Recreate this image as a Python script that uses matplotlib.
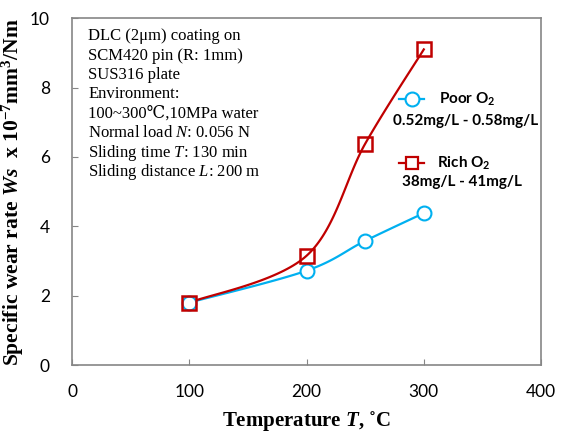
import numpy as np
import matplotlib
matplotlib.use('Agg')
import matplotlib.pyplot as plt
from matplotlib.lines import Line2D

plt.rcParams['mathtext.fontset'] = 'custom'
plt.rcParams['mathtext.rm'] = 'Liberation Serif'
plt.rcParams['mathtext.it'] = 'Liberation Serif:italic'
plt.rcParams['mathtext.bf'] = 'Liberation Serif:bold'
plt.rcParams['mathtext.bfit'] = 'Liberation Serif:bold:italic'
plt.rcParams['mathtext.sf'] = 'Lato:bold'

# Datos
temp_poor = [100, 200, 250, 300]
ws_poor = [1.8, 2.72, 3.58, 4.38]
temp_rich = [100, 200, 250, 300]
ws_rich = [1.8, 3.15, 6.38, 9.1]

x_ticks = [0, 100, 200, 300, 400]
y_ticks = [0, 2, 4, 6, 8, 10]

cond_lines = [
    'DLC (2μm) coating on',
    'SCM420 pin (R: 1mm)',
    'SUS316 plate',
    'Environment:',
    '100~300℃,10MPa water',
    r'Normal load $\it{N}$: 0.056 N',
    r'Sliding time $\it{T}$: 130 min',
    r'Sliding distance $\it{L}$: 200 m',
]

BLUE = '#00B0F0'
RED = '#C00000'
GREY = '#868686'
SANS = ['Lato', 'DejaVu Sans']
SERIF = ['Liberation Serif', 'DejaVu Serif', 'Noto Sans CJK JP']


def smooth(x, y, n=40):
    """Curva suavizada tipo Excel (Bezier con tangentes Catmull-Rom)."""
    p = np.column_stack([x, y]).astype(float)
    pts = np.vstack([p[0], p, p[-1]])
    out = []
    for i in range(1, len(pts) - 2):
        p0, p1, p2, p3 = pts[i - 1], pts[i], pts[i + 1], pts[i + 2]
        c1 = p1 + (p2 - p0) / 6
        c2 = p2 - (p3 - p1) / 6
        t = np.linspace(0, 1, n)[:, None]
        seg = ((1 - t) ** 3 * p1 + 3 * (1 - t) ** 2 * t * c1
               + 3 * (1 - t) * t ** 2 * c2 + t ** 3 * p2)
        out.append(seg if i == 1 else seg[1:])
    c = np.vstack(out)
    return c[:, 0], c[:, 1]


fig = plt.figure(figsize=(5.63, 4.33), dpi=100)
ax = fig.add_axes([0.128, 0.157, 0.833, 0.801])

sx, sy = smooth(temp_poor, ws_poor)
ax.plot(sx, sy, color=BLUE, lw=1.6, zorder=2)
ax.plot(temp_poor, ws_poor, 'o', ms=10, mfc='white', mec=BLUE, mew=1.5, zorder=3)

sx, sy = smooth(temp_rich, ws_rich)
ax.plot(sx, sy, color=RED, lw=1.6, zorder=2)
ax.plot(temp_rich, ws_rich, 's', ms=10, mfc='none', mec=RED, mew=1.8, zorder=4)

ax.set_xlim(0, 400)
ax.set_ylim(0, 10)
ax.set_xticks(x_ticks)
ax.set_yticks(y_ticks)
ax.tick_params(direction='in', length=4, color=GREY, labelsize=12.5)
ax.tick_params(axis='x', pad=14)
ax.tick_params(axis='y', pad=16)
for lab in ax.get_xticklabels() + ax.get_yticklabels():
    lab.set_family(SANS)
for s in ax.spines.values():
    s.set_color(GREY)
    s.set_linewidth(1.2)

ax.set_xlabel(r'Temperature $\mathbfit{T}$, ˚C', family=SERIF,
              fontweight='bold', fontsize=15, labelpad=6)
ax.set_ylabel(r'Specific wear rate $\mathbfit{Ws}$  x 10$^{\mathbf{-7}}$mm$^{\mathbf{3}}$/Nm',
              family=SERIF, fontweight='bold', fontsize=15.5, labelpad=3)

# Condiciones del ensayo
for i, line in enumerate(cond_lines):
    ax.text(0.035, 0.948 - i * 0.056, line, transform=ax.transAxes,
            family=SERIF, fontsize=12, va='center', ha='left')

# Leyenda manual
def fx(px):
    return (px - 72) / 469

def fy(py):
    return (365 - py) / 347

ax.add_line(Line2D([fx(399), fx(424)], [fy(99), fy(99)], transform=ax.transAxes,
                   color=BLUE, lw=1.6, marker=None))
ax.add_line(Line2D([fx(411.5)], [fy(99)], transform=ax.transAxes, marker='o',
                   ms=10, mfc='white', mec=BLUE, mew=1.5, ls='none'))
ax.text(fx(439), fy(99), r'Poor O$_\mathsf{2}$', transform=ax.transAxes, family=SANS,
        fontweight='bold', fontsize=11, va='center', ha='left')
ax.text(fx(466), fy(121), '0.52mg/L - 0.58mg/L', transform=ax.transAxes,
        family=SANS, fontweight='bold', fontsize=11, va='center', ha='center')

ax.add_line(Line2D([fx(399), fx(424)], [fy(163), fy(163)], transform=ax.transAxes,
                   color=RED, lw=1.6))
ax.add_line(Line2D([fx(411.5)], [fy(163)], transform=ax.transAxes, marker='s',
                   ms=9, mfc='white', mec=RED, mew=1.6, ls='none'))
ax.text(fx(437), fy(163), r'Rich O$_\mathsf{2}$', transform=ax.transAxes, family=SANS,
        fontweight='bold', fontsize=11, va='center', ha='left')
ax.text(fx(462), fy(182), '38mg/L - 41mg/L', transform=ax.transAxes,
        family=SANS, fontweight='bold', fontsize=11, va='center', ha='center')

fig.savefig('out.png', dpi=100)
